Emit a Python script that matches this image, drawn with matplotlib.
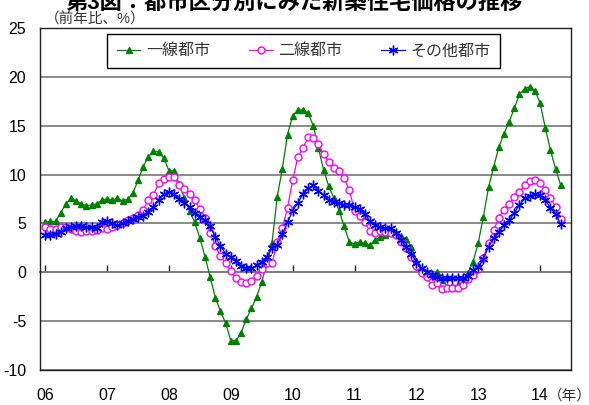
import numpy as np
import matplotlib.pyplot as plt

plt.rcParams['font.family'] = ['Liberation Sans', 'Noto Sans CJK JP']
plt.rcParams['axes.unicode_minus'] = False

# monthly, 2006/01 - 2014/05 (前年比、%)
months = np.arange(101)
years = ['06', '07', '08', '09', '10', '11', '12', '13', '14']

tier1 = [5.1, 5.2, 5.2, 6.1, 7.0, 7.6, 7.3, 7.0, 6.8, 6.9,
         7.0, 7.4, 7.5, 7.4, 7.6, 7.3, 7.5, 8.1, 9.4, 10.8,
         11.8, 12.4, 12.3, 11.7, 10.4, 10.4, 9.0, 7.6, 6.3, 5.1,
         3.5, 1.6, -0.5, -2.6, -4.0, -5.2, -7.0, -7.0, -6.2, -4.8,
         -3.7, -2.5, -1.0, 0.9, 3.0, 7.7, 10.6, 14.1, 16.0, 16.6,
         16.6, 16.3, 15.0, 12.7, 10.5, 8.8, 7.6, 6.3, 4.7, 3.1,
         2.9, 3.1, 3.0, 2.8, 3.3, 3.6, 3.8, 4.0, 3.9, 3.7,
         3.4, 2.6, 1.2, 0.2, -0.1, -0.3, 0.0, -0.8, -1.5, -1.4,
         -1.3, -1.0, -0.1, 1.1, 3.0, 5.7, 8.7, 10.8, 12.8, 14.2,
         15.4, 16.8, 18.2, 18.8, 19.0, 18.6, 17.3, 14.8, 12.5, 10.6,
         8.9]

tier2 = [4.6, 4.4, 4.4, 4.6, 4.6, 4.4, 4.2, 4.1, 4.2, 4.2,
         4.3, 4.5, 4.4, 4.6, 4.8, 5.0, 5.3, 5.6, 5.9, 6.4,
         7.4, 7.9, 9.1, 9.5, 9.7, 9.7, 8.9, 8.5, 8.0, 7.4,
         6.5, 5.6, 4.0, 2.7, 1.7, 0.9, 0.1, -0.6, -1.0, -1.1,
         -0.9, -0.4, 0.3, 0.9, 0.9, 3.1, 4.5, 6.6, 9.4, 11.8,
         12.7, 13.8, 13.7, 13.1, 12.1, 11.3, 10.7, 10.4, 9.6, 8.4,
         6.3, 5.8, 5.1, 4.2, 4.0, 4.2, 4.1, 4.0, 3.8, 3.1,
         2.5, 1.6, 0.6, -0.1, -0.5, -1.3, -1.1, -1.7, -1.6, -1.6,
         -1.6, -1.3, -0.7, -0.3, 0.3, 1.5, 3.0, 4.3, 5.6, 6.4,
         7.0, 7.7, 8.2, 8.9, 9.3, 9.4, 9.1, 8.4, 7.6, 6.7,
         5.5]

others = [3.8, 3.8, 3.9, 4.1, 4.5, 4.6, 4.7, 4.7, 4.6, 4.6,
          4.5, 5.1, 5.2, 5.0, 4.8, 5.0, 5.2, 5.5, 5.7, 5.8,
          6.2, 6.7, 7.4, 8.0, 8.2, 8.0, 7.5, 7.1, 6.7, 6.1,
          5.7, 5.3, 4.7, 3.6, 2.7, 1.9, 1.6, 1.2, 0.6, 0.4,
          0.4, 0.7, 1.1, 1.6, 2.5, 2.8, 3.9, 5.1, 6.3, 7.1,
          8.0, 8.6, 8.9, 8.3, 7.9, 7.4, 7.2, 7.1, 6.9, 6.9,
          6.7, 6.5, 6.0, 5.2, 4.8, 4.6, 4.5, 4.5, 4.0, 3.3,
          2.6, 1.9, 1.0, 0.4, 0.0, -0.3, -0.5, -0.6, -0.6, -0.6,
          -0.6, -0.6, -0.4, 0.2, 0.5, 1.4, 2.6, 3.5, 4.1, 4.8,
          5.3, 6.1, 6.9, 7.6, 7.8, 8.0, 7.9, 7.4, 6.6, 6.0,
          4.9]

fig = plt.figure(figsize=(5.89, 4.05), dpi=100)
ax = fig.add_axes([0.068, 0.0864, 0.9015, 0.8445])

ax.plot(months, tier1, color='#008000', lw=0.9, marker='^', ms=5,
        mfc='#008000', mec='#008000', label='一線都市')
ax.plot(months, tier2, color='#FF00FF', lw=0.9, marker='o', ms=5,
        mfc='white', mec='#FF00FF', mew=1, label='二線都市')
ax.plot(months, others, color='#0000FF', lw=0.9, marker=(6, 2, 0), ms=7,
        mec='#0000FF', mew=1, label='その他都市')

ymin, ymax = -10, 25
ax.set_ylim(ymin, ymax)
ax.set_xlim(-1, 102)
ax.set_yticks(np.arange(-10, 26, 5))
ax.yaxis.grid(True, color='#808080', lw=1.3)
ax.set_axisbelow(True)
ax.tick_params(axis='y', length=0, pad=10, labelsize=11.5)

ax.set_xticks(months[::12])
ax.set_xticklabels(years)
ax.tick_params(axis='x', length=0, pad=13, labelsize=11.5)

for s in ax.spines.values():
    s.set_color('#202020')
    s.set_linewidth(1)

# category axis crossing at 0
sec = ax.secondary_xaxis((0 - ymin) / (ymax - ymin))
sec.set_xticks(months[::12])
sec.xaxis.set_ticks_position('bottom')
sec.tick_params(direction='in', length=5, width=1, color='#202020', labelbottom=False)
sec.spines['bottom'].set_color('#606060')
sec.spines['bottom'].set_linewidth(1.3)

leg = ax.legend(loc='lower left', bbox_to_anchor=(0.126, 0.883, 0.740, 0.085),
                mode='expand', ncol=3, fontsize=11.5, handlelength=1.5,
                handletextpad=0.35, borderpad=0.6, borderaxespad=0,
                numpoints=1, fancybox=False, framealpha=1, edgecolor='black')
leg.get_frame().set_linewidth(1)
for t in leg.get_texts():
    t.set_color('#333333')

fig.text(45 / 589, 1 - 19 / 405, '（前年比、%）', fontsize=10.5, color='#333333',
         ha='left', va='center')
fig.text(570 / 589, 1 - 396 / 405, '（年）', fontsize=10.5, color='#333333',
         ha='center', va='center')
fig.text(0.5, 1 - 3 / 405, '第3図：都市区分別にみた新築住宅価格の推移',
         fontsize=16, weight='bold', ha='center', va='center')

fig.savefig('out.png', dpi=100)
